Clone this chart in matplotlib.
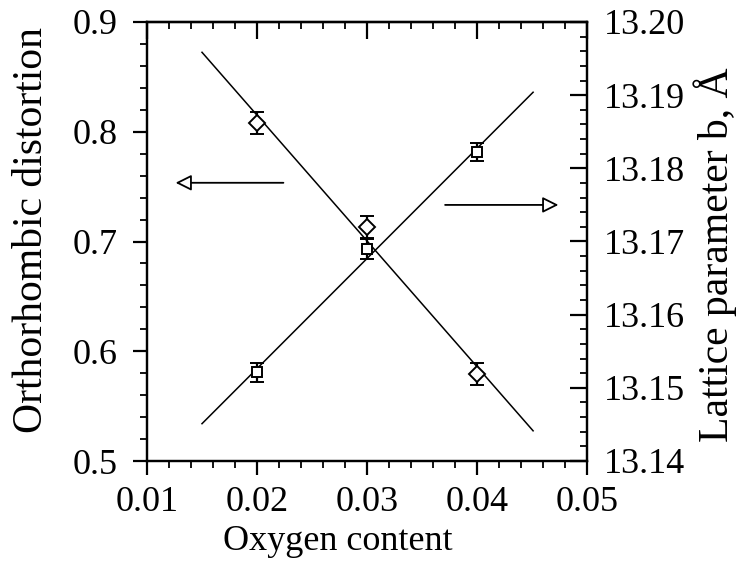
import matplotlib
matplotlib.use("Agg")
import matplotlib.pyplot as plt
from matplotlib.ticker import MultipleLocator, FormatStrFormatter

# ---- data ----
oxygen = [0.02, 0.03, 0.04]
distortion = [0.808, 0.713, 0.579]
distortion_err = [0.010, 0.010, 0.010]
lattice_b = [13.1521, 13.1690, 13.1822]
lattice_err = [0.0013, 0.0014, 0.0012]

fit_x = [0.015, 0.0451]
fit_distortion = [0.8724, 0.5275]
fit_lattice = [13.1451, 13.1904]

arrow_left_x = [0.0224, 0.0126]
arrow_left_y = 0.7535
arrow_right_x = [0.0371, 0.0474]
arrow_right_y = 13.1750

x_ticks = [0.01, 0.02, 0.03, 0.04, 0.05]
left_ticks = [0.5, 0.6, 0.7, 0.8, 0.9]
right_ticks = [13.14, 13.15, 13.16, 13.17, 13.18, 13.19, 13.20]

plt.rcParams['font.family'] = ['Liberation Serif', 'DejaVu Serif']

fig = plt.figure(figsize=(7.39, 5.74), dpi=100)
ax = fig.add_axes([147/739, 1 - 461/574, 440/739, 439/574])
ax2 = ax.twinx()

lw_sp = 1.6
for a in (ax, ax2):
    for s in a.spines.values():
        s.set_linewidth(lw_sp)

# left axis: diamonds
ax.plot(fit_x, fit_distortion, color='black', lw=1.1)
ax.errorbar(oxygen, distortion, yerr=distortion_err, fmt='D', ms=8,
            mfc='white', mec='black', mew=1.4, ecolor='black', elinewidth=1.6,
            capsize=5, capthick=1.6, zorder=3)

# right axis: squares
ax2.plot(fit_x, fit_lattice, color='black', lw=1.1)
ax2.errorbar(oxygen, lattice_b, yerr=lattice_err, fmt='s', ms=7.5,
             mfc='white', mec='black', mew=1.4, ecolor='black', elinewidth=1.6,
             capsize=5, capthick=1.6, zorder=3)

ax.set_xlim(0.01, 0.05)
ax.set_ylim(0.5, 0.9)
ax2.set_ylim(13.14, 13.20)

ax.set_xticks(x_ticks)
ax.set_yticks(left_ticks)
ax2.set_yticks(right_ticks)
ax.xaxis.set_major_formatter(FormatStrFormatter('%.2f'))
ax.yaxis.set_major_formatter(FormatStrFormatter('%.1f'))
ax2.yaxis.set_major_formatter(FormatStrFormatter('%.2f'))
ax.xaxis.set_minor_locator(MultipleLocator(0.002))
ax.yaxis.set_minor_locator(MultipleLocator(0.02))
ax2.yaxis.set_minor_locator(MultipleLocator(0.002))

tick_fs = 26
ax.tick_params(axis='x', which='both', direction='out', top=False, bottom=True,
               labelsize=tick_fs, pad=8)
ax.tick_params(axis='y', which='both', direction='out', right=False, left=True,
               labelsize=tick_fs, pad=11)
ax.tick_params(which='major', length=10, width=1.6)
ax.tick_params(which='minor', length=5, width=1.3)
ax2.tick_params(axis='y', which='both', direction='in', labelsize=tick_fs, pad=12)
ax2.tick_params(which='major', length=12, width=1.6)
ax2.tick_params(which='minor', length=5, width=1.3)

sec = ax.secondary_xaxis('top')
sec.set_xticks(x_ticks)
sec.xaxis.set_minor_locator(MultipleLocator(0.002))
sec.tick_params(which='both', direction='in', labeltop=False)
sec.tick_params(which='major', length=12, width=1.6)
sec.tick_params(which='minor', length=5, width=1.3)
sec.spines['top'].set_linewidth(lw_sp)

# arrows
aprops = dict(arrowstyle='-|>,head_length=0.6,head_width=0.3', mutation_scale=16,
              fc='white', ec='black', lw=1.3, shrinkA=0, shrinkB=0)
ax.annotate('', xy=(arrow_left_x[1], arrow_left_y), xytext=(arrow_left_x[0], arrow_left_y),
            arrowprops=aprops)
ax2.annotate('', xy=(arrow_right_x[1], arrow_right_y), xytext=(arrow_right_x[0], arrow_right_y),
             arrowprops=aprops)

# labels
ax.set_xlabel('Oxygen content', fontsize=26, va='center')
ax.xaxis.set_label_coords((338 - 147) / 440, (461 - 542) / 439)
ax.set_ylabel('Orthorhombic distortion', fontsize=30, va='center')
ax.yaxis.set_label_coords((32 - 147) / 440, (461 - 230) / 439)
ax2.set_ylabel('Lattice parameter b, Å', fontsize=30, va='center', rotation=90)
ax2.yaxis.set_label_coords((715 - 147) / 440, (461 - 255) / 439)

fig.savefig('out.png', dpi=100)
